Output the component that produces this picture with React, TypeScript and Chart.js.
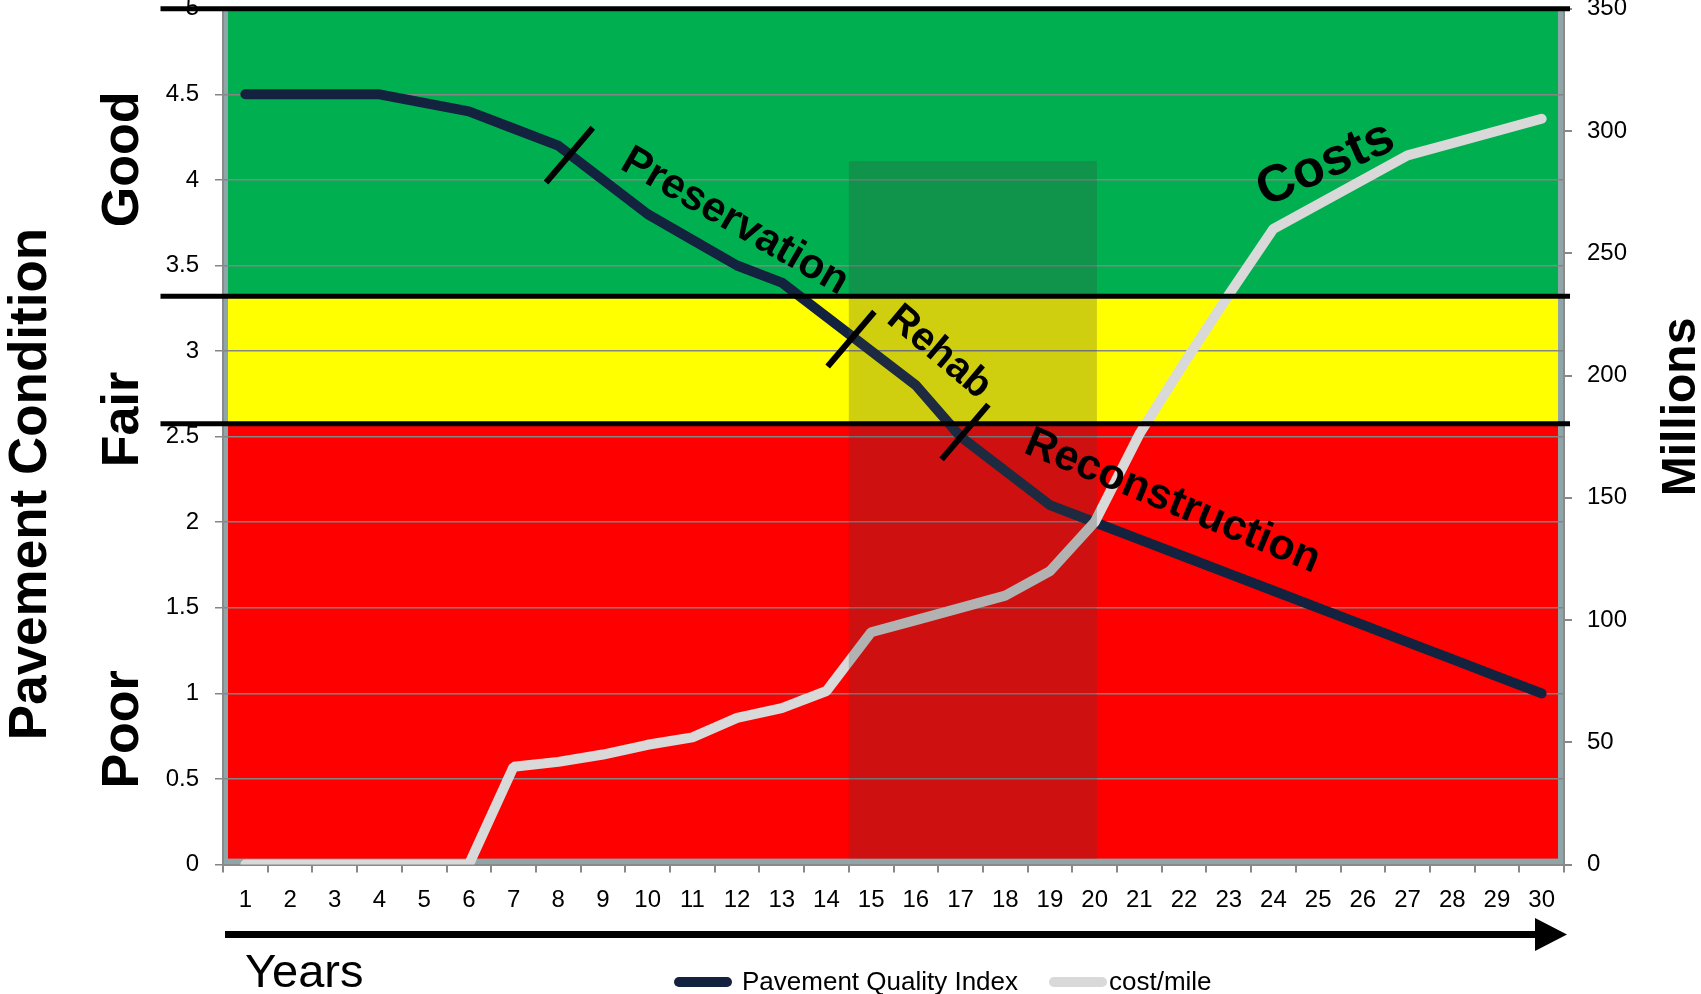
import { useEffect, useRef } from "react";
import { Chart, registerables } from "chart.js";

Chart.register(...registerables);

const FONT = "'Liberation Sans', Arial, sans-serif";

// Years on the horizontal axis
const years = [
  "1", "2", "3", "4", "5", "6", "7", "8", "9", "10",
  "11", "12", "13", "14", "15", "16", "17", "18", "19", "20",
  "21", "22", "23", "24", "25", "26", "27", "28", "29", "30",
];

// Pavement Quality Index (left axis, 0-5)
const pavementQuality = [
  4.5, 4.5, 4.5, 4.5, 4.45, 4.4, 4.3, 4.2, 4.0, 3.8,
  3.65, 3.5, 3.4, 3.2, 3.0, 2.8, 2.5, 2.3, 2.1, 2.0,
  1.9, 1.8, 1.7, 1.6, 1.5, 1.4, 1.3, 1.2, 1.1, 1.0,
];

// Cost per mile in millions (right axis, 0-350)
const costPerMile = [
  0, 0, 0, 0, 0, 0, 40, 42, 45, 49,
  52, 60, 64, 71, 95, 100, 105, 110, 120, 140,
  176, 205, 233, 260, 270, 280, 290, 295, 300, 305,
];

// Condition bands (top edge of each band, in PQI units)
const bandNames = ["Good", "Fair", "Poor"];
const bandTops = [5, 3.32, 2.575];
const bandColors = ["#00b050", "#ffff00", "#ff0000"];
const bandLabelY = [4.12, 2.6, 0.79];

// Treatment phase captions along the curves (x = year index, y = PQI units)
const phaseNames = ["Preservation", "Rehab", "Reconstruction", "Costs"];
const phaseX = [10.95, 15.52, 20.74, 24.17];
const phaseY = [3.756, 2.993, 2.12, 4.09];
const phaseAngle = [30, 40, 22.5, -24];
const phaseSize = [42, 40, 43, 52];

// Short strokes marking the transitions between phases
const dividerX = [7.25, 13.55, 16.1];
const dividerY = [4.145, 3.07, 2.527];

// Highlighted window of years
const windowFrom = 13.5;
const windowTo = 19.05;
const windowTop = 4.11;

const decorations = {
  id: "decorations",
  beforeDraw(chart: any) {
    const { ctx, chartArea: a, scales } = chart;
    const y = scales.y;
    ctx.save();
    ctx.fillStyle = "#8fa5a8";
    ctx.fillRect(a.left, a.top, a.right - a.left, a.bottom - a.top);
    const l = a.left + 5;
    const r = a.right - 6;
    const b = a.bottom - 6;
    bandTops.forEach((top, i) => {
      const yTop = i === 0 ? a.top : y.getPixelForValue(top);
      const yBot = i + 1 < bandTops.length ? y.getPixelForValue(bandTops[i + 1]) : b;
      ctx.fillStyle = bandColors[i];
      ctx.fillRect(l, yTop, r - l, yBot - yTop);
    });
    ctx.restore();
  },
  afterDatasetsDraw(chart: any) {
    const { ctx, chartArea: a, scales } = chart;
    const x1 = scales.x.getPixelForValue(windowFrom);
    const x2 = scales.x.getPixelForValue(windowTo);
    const yT = scales.y.getPixelForValue(windowTop);
    ctx.save();
    ctx.fillStyle = "rgba(65,65,65,0.25)";
    ctx.fillRect(x1, yT, x2 - x1, a.bottom - 6 - yT);
    ctx.restore();
  },
  afterDraw(chart: any) {
    const { ctx, chartArea: a, scales } = chart;
    const xs = scales.x;
    const ys = scales.y;
    ctx.save();

    // band boundary rules
    ctx.strokeStyle = "#000";
    ctx.lineWidth = 5;
    ctx.lineCap = "butt";
    bandTops.forEach((v) => {
      const py = ys.getPixelForValue(v);
      ctx.beginPath();
      ctx.moveTo(a.left - 62.5, py);
      ctx.lineTo(a.right + 6, py);
      ctx.stroke();
    });

    // phase transition strokes
    ctx.lineWidth = 6;
    dividerX.forEach((dx, i) => {
      const cx = xs.getPixelForValue(dx);
      const cy = ys.getPixelForValue(dividerY[i]);
      const ang = (-49.5 * Math.PI) / 180;
      const h = 36;
      ctx.beginPath();
      ctx.moveTo(cx - Math.cos(ang) * h, cy - Math.sin(ang) * h);
      ctx.lineTo(cx + Math.cos(ang) * h, cy + Math.sin(ang) * h);
      ctx.stroke();
    });

    // phase captions
    ctx.fillStyle = "#000";
    ctx.textAlign = "center";
    ctx.textBaseline = "middle";
    phaseNames.forEach((name, i) => {
      const cx = xs.getPixelForValue(phaseX[i]);
      const cy = ys.getPixelForValue(phaseY[i]);
      ctx.save();
      ctx.translate(cx, cy);
      ctx.rotate((phaseAngle[i] * Math.PI) / 180);
      ctx.font = `bold ${phaseSize[i]}px ${FONT}`;
      ctx.fillText(name, 0, 0);
      ctx.restore();
    });

    // vertical titles
    ctx.textBaseline = "alphabetic";
    const vertical = (text: string, baseX: number, cy: number, size: number) => {
      ctx.save();
      ctx.translate(baseX, cy);
      ctx.rotate(-Math.PI / 2);
      ctx.font = `bold ${size}px ${FONT}`;
      ctx.fillText(text, 0, 0);
      ctx.restore();
    };
    vertical("Pavement Condition", 46, 484, 53);
    bandNames.forEach((name, i) => {
      vertical(name, 138, ys.getPixelForValue(bandLabelY[i]), 52);
    });
    vertical("Millions", 1695, 407, 48);

    // time arrow
    const ay = 934.5;
    const tip = a.right + 3;
    ctx.lineWidth = 7;
    ctx.beginPath();
    ctx.moveTo(a.left + 2, ay);
    ctx.lineTo(tip - 30, ay);
    ctx.stroke();
    ctx.beginPath();
    ctx.moveTo(tip, ay);
    ctx.lineTo(tip - 32, ay - 16.5);
    ctx.lineTo(tip - 32, ay + 16.5);
    ctx.closePath();
    ctx.fill();

    ctx.textAlign = "left";
    ctx.font = `47px ${FONT}`;
    ctx.fillText("Years", 245, 987);

    // legend
    const legend = [
      { label: chart.data.datasets[1].label, color: chart.data.datasets[1].borderColor, x: 674, gap: 68 },
      { label: chart.data.datasets[0].label, color: chart.data.datasets[0].borderColor, x: 1049, gap: 60 },
    ];
    ctx.font = `26px ${FONT}`;
    ctx.lineCap = "round";
    ctx.lineWidth = 10;
    legend.forEach((item) => {
      ctx.strokeStyle = item.color;
      ctx.beginPath();
      ctx.moveTo(item.x + 5, 982);
      ctx.lineTo(item.x + 53, 982);
      ctx.stroke();
      ctx.fillText(item.label, item.x + item.gap, 990);
    });

    ctx.restore();
  },
};

export default function App() {
  const ref = useRef<HTMLCanvasElement>(null);

  useEffect(() => {
    const canvas = ref.current;
    if (!canvas) return;
    const tickFont = { family: FONT, size: 24 };
    const plain = (v: any) => String(Number(v));
    const chart = new Chart(canvas, {
      type: "line",
      data: {
        labels: years,
        datasets: [
          {
            label: "cost/mile",
            data: costPerMile,
            yAxisID: "y1",
            borderColor: "#d9d9d9",
            borderWidth: 10,
            borderCapStyle: "round",
            borderJoinStyle: "bevel",
            pointRadius: 0,
            tension: 0,
            order: 1,
          },
          {
            label: "Pavement Quality Index",
            data: pavementQuality,
            yAxisID: "y",
            borderColor: "#13233f",
            borderWidth: 10,
            borderCapStyle: "round",
            borderJoinStyle: "bevel",
            pointRadius: 0,
            tension: 0,
            order: 2,
          },
        ],
      },
      options: {
        responsive: false,
        animation: false,
        devicePixelRatio: 1,
        layout: { padding: { top: 8.7, left: 0, right: 0, bottom: 0 } },
        plugins: { legend: { display: false }, tooltip: { enabled: false } },
        scales: {
          x: {
            type: "category",
            offset: true,
            grid: { offset: true, drawOnChartArea: false, tickLength: 8, color: "#888", lineWidth: 2 },
            border: { display: true, color: "#8a8a8a", width: 2 },
            ticks: { font: tickFont, color: "#000", padding: 13, maxRotation: 0, autoSkip: false },
            afterFit(s: any) {
              s.height = 129.4;
              s.paddingLeft = 0;
              s.paddingRight = 0;
            },
          },
          y: {
            position: "left",
            min: 0,
            max: 5,
            ticks: { stepSize: 0.5, font: tickFont, color: "#000", padding: 16, callback: plain },
            grid: { color: "#858585", lineWidth: 1.5, tickLength: 8 },
            border: { display: true, color: "#8a8a8a", width: 2 },
            afterFit(s: any) {
              s.width = 223;
              s.paddingTop = 0;
              s.paddingBottom = 0;
            },
          },
          y1: {
            position: "right",
            min: 0,
            max: 350,
            ticks: { stepSize: 50, font: tickFont, color: "#000", padding: 15, callback: plain },
            grid: { drawOnChartArea: false, color: "#888", lineWidth: 2, tickLength: 8 },
            border: { display: true, color: "#8a8a8a", width: 2 },
            afterFit(s: any) {
              s.width = 137;
              s.paddingTop = 0;
              s.paddingBottom = 0;
            },
          },
        },
      },
      plugins: [decorations],
    });
    return () => chart.destroy();
  }, []);

  return (
    <div style={{ position: "absolute", left: 0, top: 0, width: 1701, height: 994, background: "#fff" }}>
      <canvas ref={ref} width={1701} height={994} />
    </div>
  );
}
